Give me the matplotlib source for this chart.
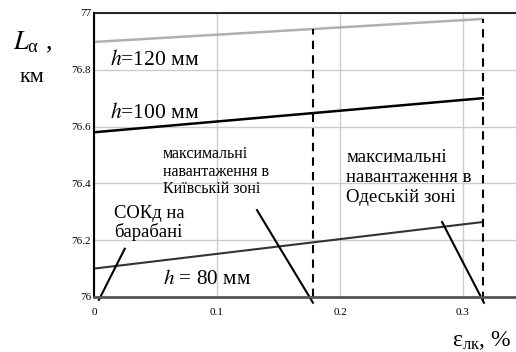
import numpy as np
import matplotlib.pyplot as plt

plt.rcParams['font.family'] = ['Liberation Serif', 'DejaVu Serif']
plt.rcParams['mathtext.fontset'] = 'stix'

# дані
eps = [0.0, 0.316]
L_120 = [76.898, 76.979]
L_100 = [76.58, 76.70]
L_80 = [76.10, 76.264]
x_kyiv = 0.178
x_odesa = 0.316
x_ticks = [0, 0.1, 0.2, 0.3]
y_ticks = [76, 76.2, 76.4, 76.6, 76.8, 77]
x_labels = ['0', '0.1', '0.2', '0.3']
y_labels = ['76', '76.2', '76.4', '76.6', '76.8', '77']

fig = plt.figure(figsize=(5.16, 3.52), dpi=100)
ax = fig.add_axes([94/516, 1-297/352, 1-94/516, (297-13)/352])
ax.set_xlim(0, (516-94)/1230)
ax.set_ylim(76, 77)

ax.plot(eps, L_120, color='#b0b0b0', lw=1.8)
ax.plot(eps, L_100, color='black', lw=1.8)
ax.plot(eps, L_80, color='#333333', lw=1.5)

# вертикальні пунктири до верхньої лінії
g = np.interp([x_kyiv, x_odesa], eps, L_120)
ax.plot([x_kyiv, x_kyiv], [76, g[0]], 'k--', lw=1.5, dashes=(4, 3))
ax.plot([x_odesa, x_odesa], [75.99, g[1]], 'k--', lw=1.5, dashes=(4, 3), clip_on=False)

# виноски
ax.plot([0.004, 0.025], [75.99, 76.17], color='black', lw=1.5, clip_on=False)
ax.plot([0.1325, 0.178], [76.306, 75.98], color='black', lw=1.5, clip_on=False)
ax.plot([0.283, 0.317], [76.264, 75.98], color='black', lw=1.5, clip_on=False)

ax.set_xticks(x_ticks)
ax.set_xticklabels(x_labels)
ax.set_yticks(y_ticks)
ax.set_yticklabels(y_labels)
ax.tick_params(length=0, labelsize=8)
ax.tick_params(axis='x', pad=8)
ax.tick_params(axis='y', pad=2)
ax.grid(True, color='#cccccc', lw=1)
ax.set_axisbelow(True)
ax.spines['right'].set_visible(False)
ax.spines['left'].set_linewidth(1.5)
ax.spines['top'].set_linewidth(1.2)
ax.spines['bottom'].set_color('#555555')
ax.spines['bottom'].set_linewidth(2)

ax.text(0.013, 76.834, r'$h$=120 мм', fontsize=15.5, va='center')
ax.text(0.013, 76.648, r'$h$=100 мм', fontsize=15.5, va='center')
ax.text(0.056, 76.06, r'$h$ = 80 мм', fontsize=15.3, va='center')
ax.text(0.056, 76.53, 'максимальні\nнавантаження в\nКиївській зоні', fontsize=11.5, va='top', linespacing=1.1)
ax.text(0.205, 76.52, 'максимальні\nнавантаження в\nОдеській зоні', fontsize=13.5, va='top', linespacing=1.2)
ax.text(0.016, 76.325, 'СОКд на\nбарабані', fontsize=13.4, va='top', linespacing=1.1)

fig.text(13/516, 1-42/352, r'$L_{\mathregular{α}}$ ,', fontsize=19, va='center')
fig.text(20/516, 1-78/352, 'км', fontsize=16, va='center')
fig.text(452/516, 1-340/352, r'$\mathregular{ε_{лк}}$, %', fontsize=17, va='center')

fig.savefig('out.png', dpi=100)
